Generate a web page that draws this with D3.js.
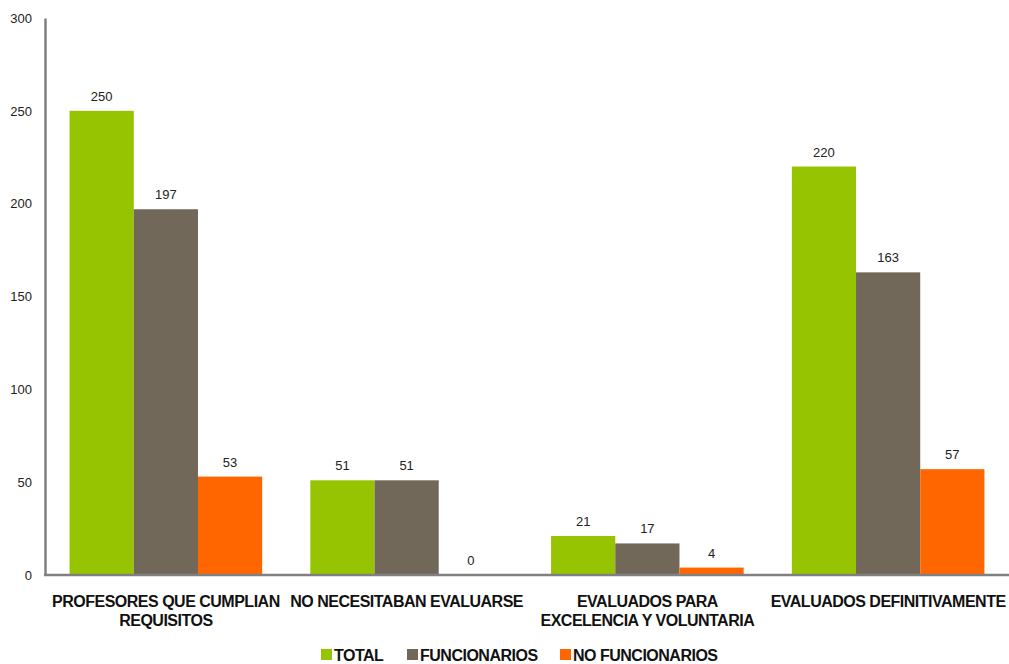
<!DOCTYPE html>
<html><head><meta charset="utf-8">
<script src="https://cdn.jsdelivr.net/npm/d3@7"></script>
<style>body{margin:0;background:#fff}svg{display:block}</style>
</head><body>
<svg id="c" width="1009" height="664"></svg>
<script>
const categories = [["PROFESORES QUE CUMPLIAN","REQUISITOS"],["NO NECESITABAN EVALUARSE"],["EVALUADOS PARA","EXCELENCIA Y VOLUNTARIA"],["EVALUADOS DEFINITIVAMENTE"]];
const seriesNames = ["TOTAL","FUNCIONARIOS","NO FUNCIONARIOS"];
const total = [250, 51, 21, 220];
const funcionarios = [197, 51, 17, 163];
const noFuncionarios = [53, 0, 4, 57];
const yTicks = [0, 50, 100, 150, 200, 250, 300];
const colors = ["#97c400", "#71685a", "#ff6600"];

const series = [total, funcionarios, noFuncionarios];
const svg = d3.select("#c");
const font = "'Liberation Sans Narrow','Arial Narrow',sans-serif";
const x0 = d3.scaleBand().domain(d3.range(categories.length)).range([45.5, 1008.5]).paddingInner(0.2).paddingOuter(0.1);
const x1 = d3.scaleBand().domain(d3.range(series.length)).range([0, x0.bandwidth()]);
const y = d3.scaleLinear().domain([0, 300]).range([575, 18]);

const g = svg.append("g");
categories.forEach((c, i) => {
  series.forEach((s, j) => {
    const v = s[i];
    g.append("rect").attr("x", x0(i) + x1(j)).attr("width", x1.bandwidth())
      .attr("y", y(v)).attr("height", y(0) - y(v)).attr("fill", colors[j]);
    g.append("text").attr("x", x0(i) + x1(j) + x1.bandwidth() / 2).attr("y", y(v) - 10)
      .attr("text-anchor", "middle").attr("font-family", font).attr("font-size", 13)
      .attr("fill", "#222").text(v);
  });
});

const yAxis = d3.axisLeft(y).tickValues(yTicks).tickSize(0).tickPadding(13);
const ya = svg.append("g").attr("transform", "translate(45,0)").call(yAxis);
ya.select(".domain").attr("stroke", "#808080").attr("stroke-width", 2.5);
ya.selectAll("text").attr("font-family", font).attr("font-size", 13).attr("fill", "#222");

svg.append("line").attr("x1", 44).attr("x2", 1009).attr("y1", y(0)).attr("y2", y(0))
  .attr("stroke", "#808080").attr("stroke-width", 2.5);

categories.forEach((c, i) => {
  const t = svg.append("text").attr("x", x0(i) + x0.bandwidth() / 2).attr("y", 607)
    .attr("text-anchor", "middle").attr("font-family", font).attr("font-size", 16)
    .attr("font-weight", "bold").attr("fill", "#111").attr("letter-spacing", -0.5);
  c.forEach((line, k) => t.append("tspan").attr("x", x0(i) + x0.bandwidth() / 2).attr("dy", k ? 19 : 0).text(line));
});

const legX = [321, 407, 560];
seriesNames.forEach((n, j) => {
  svg.append("rect").attr("x", legX[j]).attr("y", 649).attr("width", 11).attr("height", 11).attr("fill", colors[j]);
  svg.append("text").attr("x", legX[j] + 13).attr("y", 661).attr("font-family", font)
    .attr("font-size", 16).attr("font-weight", "bold").attr("fill", "#111").attr("letter-spacing", -0.5).text(n);
});
</script>
</body></html>
